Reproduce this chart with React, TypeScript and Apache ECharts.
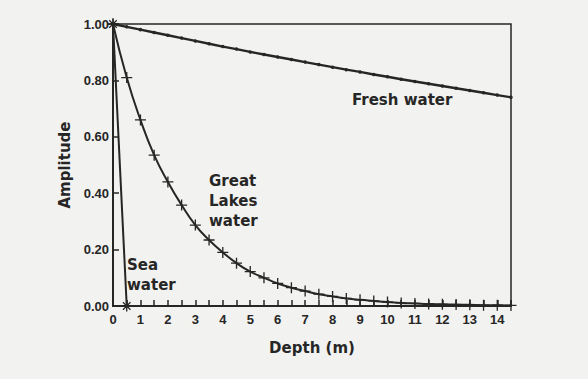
import React, { useEffect, useRef } from "react";
import * as echarts from "echarts";

const depthSteps = [0, 0.5, 1, 1.5, 2, 2.5, 3, 3.5, 4, 4.5, 5, 5.5, 6, 6.5, 7, 7.5, 8, 8.5, 9, 9.5, 10, 10.5, 11, 11.5, 12, 12.5, 13, 13.5, 14, 14.5];
const freshWater = [1.0, 0.99, 0.98, 0.97, 0.96, 0.95, 0.94, 0.93, 0.92, 0.911, 0.901, 0.892, 0.883, 0.874, 0.865, 0.856, 0.847, 0.838, 0.83, 0.821, 0.813, 0.804, 0.796, 0.788, 0.78, 0.772, 0.764, 0.756, 0.748, 0.74];
const greatLakes = [1.0, 0.81, 0.66, 0.535, 0.44, 0.358, 0.287, 0.234, 0.19, 0.152, 0.122, 0.1, 0.08, 0.065, 0.053, 0.042, 0.034, 0.027, 0.022, 0.018, 0.014, 0.011, 0.009, 0.007, 0.006, 0.005, 0.004, 0.003, 0.003, 0.002];
const seaDepth = [0, 0.5];
const seaWater = [1.0, 0.0];
const yTicks = [0, 0.2, 0.4, 0.6, 0.8, 1.0];

const INK = "#262626";
const PLUS = "path://M0,4.4H10V5.6H0Z M4.4,0H5.6V10H4.4Z";
const STAR = "path://M0,4.4H10V5.6H0Z M4.4,0H5.6V10H4.4Z M1.2,2L2,1.2L8.8,8L8,8.8Z M8,1.2L8.8,2L2,8.8L1.2,8Z";

export default function App() {
  const ref = useRef<HTMLDivElement>(null);
  useEffect(() => {
    const chart = echarts.init(ref.current!, null, { renderer: "svg" });
    const font = "'DejaVu Sans', sans-serif";
    const tickFont = "'Liberation Sans', Arial, sans-serif";
    chart.setOption({
      animation: false,
      backgroundColor: "#f2f2f0",
      grid: { left: 113, right: 77, top: 24, bottom: 73, show: true, borderColor: INK, borderWidth: 1.5, backgroundColor: "transparent" },
      xAxis: {
        type: "value",
        min: 0,
        max: 14.5,
        interval: 0.5,
        name: "Depth (m)",
        nameLocation: "middle",
        nameGap: 34,
        nameTextStyle: { color: INK, fontSize: 15, fontWeight: "bold", fontFamily: font },
        axisLine: { lineStyle: { color: INK, width: 2 } },
        axisTick: { inside: true, length: 6, lineStyle: { color: INK, width: 1.5 } },
        axisLabel: {
          color: INK, fontSize: 13, fontWeight: "bold", fontFamily: tickFont, margin: 7,
          formatter: (v: number) => (Math.abs(v - Math.round(v)) < 1e-6 ? String(Math.round(v)) : ""),
        },
        splitLine: { show: false },
      },
      yAxis: {
        type: "value",
        min: 0,
        max: 1,
        interval: 0.2,
        name: "Amplitude",
        nameLocation: "middle",
        nameGap: 40,
        nameTextStyle: { color: INK, fontSize: 15, fontWeight: "bold", fontFamily: font },
        axisLine: { lineStyle: { color: INK, width: 2 } },
        axisTick: { inside: true, length: 6, lineStyle: { color: INK, width: 1.5 } },
        axisLabel: {
          color: INK, fontSize: 13, fontWeight: "bold", fontFamily: tickFont, margin: 4,
          formatter: (v: number) => yTicks.includes(Math.round(v * 10) / 10) ? v.toFixed(2) : "",
        },
        splitLine: { show: false },
      },
      series: [
        {
          name: "Fresh water",
          type: "line",
          data: depthSteps.map((d, i) => [d, freshWater[i]]),
          symbol: "circle",
          symbolSize: 3.5,
          lineStyle: { color: INK, width: 2.4 },
          itemStyle: { color: INK },
        },
        {
          name: "Great Lakes water",
          type: "line",
          smooth: true,
          data: depthSteps.map((d, i) => [d, greatLakes[i]]),
          symbol: PLUS,
          symbolSize: 11,
          lineStyle: { color: INK, width: 2 },
          itemStyle: { color: INK },
        },
        {
          name: "Sea water",
          type: "line",
          data: seaDepth.map((d, i) => [d, seaWater[i]]),
          symbol: STAR,
          symbolSize: 11,
          lineStyle: { color: INK, width: 2 },
          itemStyle: { color: INK },
        },
      ],
      graphic: [
        { type: "text", left: 352, top: 92, style: { text: "Fresh water", fill: INK, font: `bold 15px ${font}` } },
        { type: "text", left: 209, top: 171, style: { text: "Great\nLakes\nwater", fill: INK, font: `bold 15px ${font}`, lineHeight: 20 } },
        { type: "text", left: 127, top: 255, style: { text: "Sea\nwater", fill: INK, font: `bold 15px ${font}`, lineHeight: 20 } },
      ],
    });
    return () => chart.dispose();
  }, []);
  return <div ref={ref} style={{ width: 588, height: 379, position: "absolute", left: 0, top: 0 }} />;
}
